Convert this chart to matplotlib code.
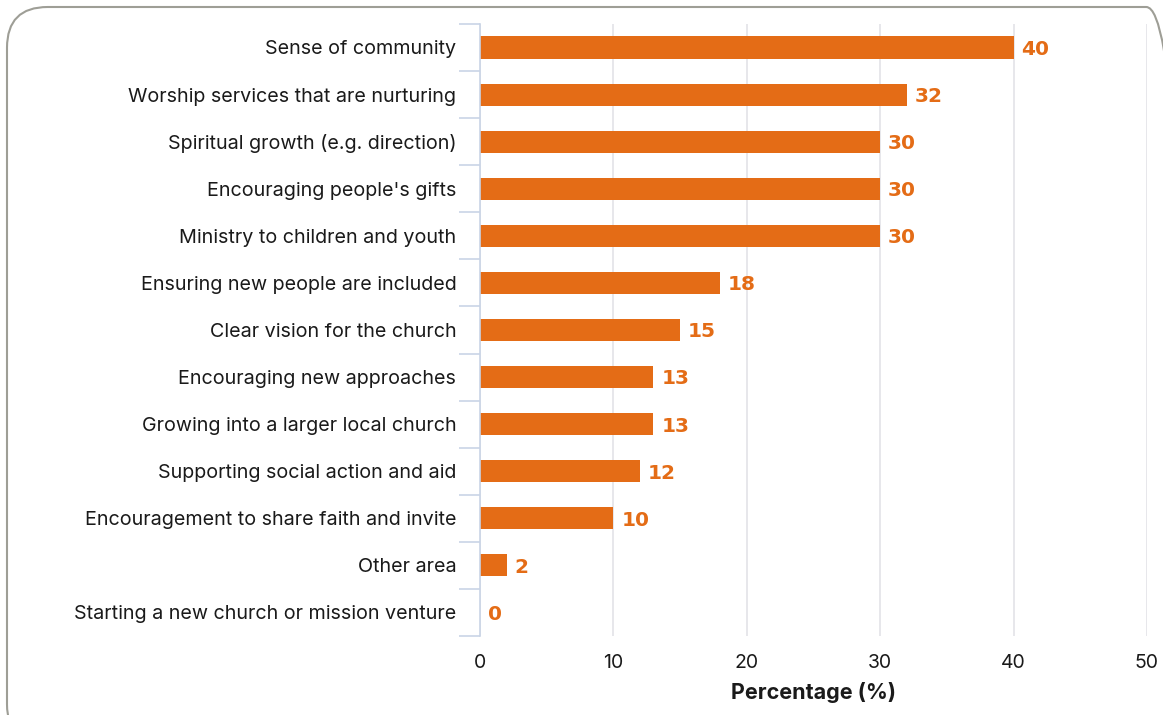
import matplotlib
matplotlib.use("Agg")
import matplotlib.pyplot as plt
from matplotlib.patches import FancyBboxPatch
import numpy as np

plt.rcParams['font.family'] = ['Inter', 'DejaVu Sans']

categories = [
    "Sense of community",
    "Worship services that are nurturing",
    "Spiritual growth (e.g. direction)",
    "Encouraging people's gifts",
    "Ministry to children and youth",
    "Ensuring new people are included",
    "Clear vision for the church",
    "Encouraging new approaches",
    "Growing into a larger local church",
    "Supporting social action and aid",
    "Encouragement to share faith and invite",
    "Other area",
    "Starting a new church or mission venture",
]
values = [40, 32, 30, 30, 30, 18, 15, 13, 13, 12, 10, 2, 0]
x_ticks = [0, 10, 20, 30, 40, 50]

bar_color = "#E46C16"
axis_color = "#C9D4E6"
grid_color = "#E3E3E8"
text_color = "#1A1A1A"

fig = plt.figure(figsize=(11.63, 7.15), dpi=100)
ax = fig.add_axes([0.4127, 0.1105, 0.5735, 0.856])

y = np.arange(len(categories))
ax.barh(y, values, height=0.47, color=bar_color, zorder=3)

for yi, v in zip(y, values):
    ax.text(v + 0.6, yi + 0.04, f"{v}", va="center", ha="left", color=bar_color,
            fontsize=14.5, fontweight="bold", family=["DejaVu Sans"], zorder=4)

ax.set_xlim(0, 50)
ax.set_ylim(len(categories) - 0.5, -0.5)
ax.set_xticks(x_ticks)
ax.set_xticklabels([str(t) for t in x_ticks], fontsize=14, color=text_color)
ax.set_yticks(y)
ax.set_yticklabels(categories, fontsize=14.2, color=text_color)
ax.tick_params(axis="y", which="major", length=0, pad=17)
ax.tick_params(axis="x", which="major", length=0, pad=13)

# tick marks between category slots on the y axis
ax.set_yticks(np.arange(-0.5, len(categories), 1.0), minor=True)
ax.tick_params(axis="y", which="minor", length=15, width=1.2, color=axis_color)

ax.grid(axis="x", color=grid_color, linewidth=1.2, zorder=0)
for s in ["top", "right", "bottom"]:
    ax.spines[s].set_visible(False)
ax.spines["left"].set_color(axis_color)
ax.spines["left"].set_linewidth(1.2)
ax.spines["left"].set_zorder(5)

ax.set_xlabel("Percentage (%)", fontsize=15.5, fontweight="bold", labelpad=7,
              color=text_color)

# rounded outer frame
frame = FancyBboxPatch((7 / 1163, -30 / 715), 1180 / 1163, 738 / 715,
                       boxstyle="round,pad=0,rounding_size=0.035",
                       transform=fig.transFigure, fill=False,
                       edgecolor="#9E9E96", linewidth=1.5, mutation_aspect=1163 / 715)
fig.patches.append(frame)

fig.savefig("out.png", dpi=100)
